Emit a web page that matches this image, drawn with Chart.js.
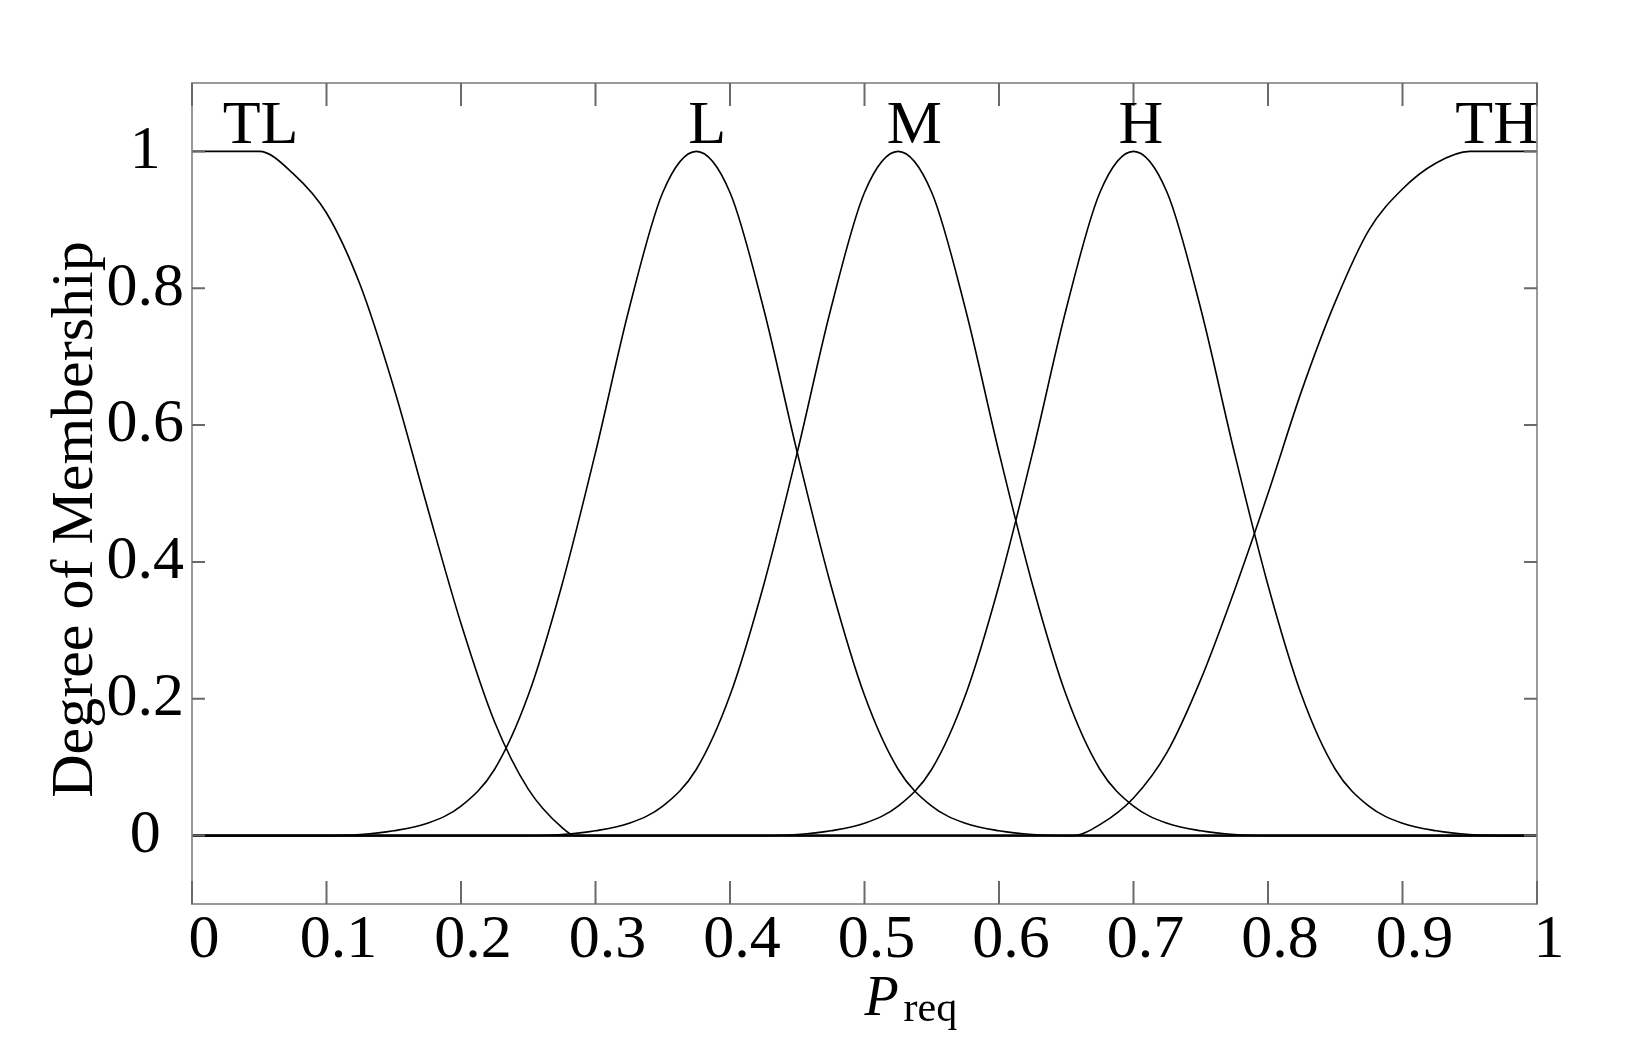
<!DOCTYPE html>
<html>
<head>
<meta charset="utf-8">
<title>Degree of Membership</title>
<script src="https://cdn.jsdelivr.net/npm/chart.js@4.4.1/dist/chart.umd.min.js"></script>
<style>
    html, body { margin: 0; padding: 0; background: #fff; }
    #wrap { width: 1632px; height: 1056px; position: relative; }
</style>
</head>
<body>
<div id="wrap"><canvas id="mfChart"></canvas></div>
<script>
// membership curves (x = P_req, y = degree)
const tlX = [0, 0.05, 0.075, 0.1, 0.125, 0.15, 0.175, 0.2, 0.225, 0.25, 0.275, 0.285, 1];
const tlY = [1, 1, 0.968, 0.91, 0.805, 0.655, 0.48, 0.31, 0.166, 0.068, 0.012, 0, 0];

const lX = [0, 0.1, 0.125, 0.15, 0.175, 0.2, 0.225, 0.25, 0.275, 0.3, 0.325, 0.35, 0.375,
            0.4, 0.425, 0.45, 0.475, 0.5, 0.525, 0.55, 0.575, 0.6, 0.625, 0.65, 1];
const lY = [0, 0, 0.0015, 0.007, 0.018, 0.043, 0.097, 0.205, 0.366, 0.56, 0.77, 0.94, 1,
            0.94, 0.77, 0.56, 0.366, 0.205, 0.097, 0.043, 0.018, 0.007, 0.0015, 0, 0];

const mX = [0, 0.25, 0.275, 0.3, 0.325, 0.35, 0.375, 0.4, 0.425, 0.45, 0.475, 0.5, 0.525,
            0.55, 0.575, 0.6, 0.625, 0.65, 0.675, 0.7, 0.725, 0.75, 0.775, 0.8, 1];
const mY = [0, 0, 0.0015, 0.007, 0.018, 0.043, 0.097, 0.205, 0.366, 0.56, 0.77, 0.94, 1,
            0.94, 0.77, 0.56, 0.366, 0.205, 0.097, 0.043, 0.018, 0.007, 0.0015, 0, 0];

const hX = [0, 0.425, 0.45, 0.475, 0.5, 0.525, 0.55, 0.575, 0.6, 0.625, 0.65, 0.675, 0.7,
            0.725, 0.75, 0.775, 0.8, 0.825, 0.85, 0.875, 0.9, 0.925, 0.95, 0.975, 1];
const hY = [0, 0, 0.0015, 0.007, 0.018, 0.043, 0.097, 0.205, 0.366, 0.56, 0.77, 0.94, 1,
            0.94, 0.77, 0.56, 0.366, 0.205, 0.097, 0.043, 0.018, 0.007, 0.0015, 0, 0];

const thX = [0, 0.655, 0.675, 0.7, 0.725, 0.75, 0.775, 0.8, 0.825, 0.85, 0.875, 0.9, 0.925, 0.95, 1];
const thY = [0, 0, 0.016, 0.055, 0.122, 0.228, 0.358, 0.5, 0.65, 0.78, 0.885, 0.945, 0.983, 1, 1];

// names written above the curves
const mfNames = ['TL', 'L', 'M', 'H', 'TH'];
const mfNameX = [0.051, 0.383, 0.537, 0.7055, 0.970];
const mfNameY = 1.012;

// axis ticks
const xTicks = [0, 0.1, 0.2, 0.3, 0.4, 0.5, 0.6, 0.7, 0.8, 0.9, 1];
const yTicks = [0, 0.2, 0.4, 0.6, 0.8, 1];

const serif = '"Liberation Serif", "Times New Roman", serif';

function pts(xs, ys) {
    return xs.map((x, i) => ({ x: x, y: ys[i] }));
}

const curves = [
    { label: 'TL', xs: tlX, ys: tlY },
    { label: 'L', xs: lX, ys: lY },
    { label: 'M', xs: mX, ys: mY },
    { label: 'H', xs: hX, ys: hY },
    { label: 'TH', xs: thX, ys: thY }
];

// box, inward ticks, zero line, names and axis titles (matlab look)
const matlabAxes = {
    id: 'matlabAxes',
    beforeDatasetsDraw(chart) {
        const { ctx, chartArea: a, scales: { y } } = chart;
        const y0 = y.getPixelForValue(0);
        ctx.save();
        ctx.strokeStyle = '#7a7a7a';
        ctx.lineWidth = 3;
        ctx.beginPath();
        ctx.moveTo(a.left, y0);
        ctx.lineTo(a.right, y0);
        ctx.stroke();
        ctx.restore();
    },
    afterDraw(chart) {
        const { ctx, chartArea: a, scales: { x, y } } = chart;
        ctx.save();

        ctx.strokeStyle = '#9a9a9a';
        ctx.lineWidth = 2;
        ctx.strokeRect(a.left, a.top, a.right - a.left, a.bottom - a.top);

        ctx.strokeStyle = '#6a6a6a';
        ctx.lineWidth = 2;
        ctx.beginPath();
        xTicks.forEach(v => {
            const px = x.getPixelForValue(v);
            ctx.moveTo(px, a.bottom); ctx.lineTo(px, a.bottom - 23);
            ctx.moveTo(px, a.top); ctx.lineTo(px, a.top + 23);
        });
        yTicks.forEach(v => {
            const py = y.getPixelForValue(v);
            ctx.moveTo(a.left, py); ctx.lineTo(a.left + 13, py);
            ctx.moveTo(a.right, py); ctx.lineTo(a.right - 13, py);
        });
        ctx.stroke();

        ctx.fillStyle = '#000';
        ctx.font = '62px ' + serif;
        ctx.textAlign = 'center';
        ctx.textBaseline = 'alphabetic';
        mfNames.forEach((n, i) => {
            ctx.fillText(n, x.getPixelForValue(mfNameX[i]), y.getPixelForValue(mfNameY));
        });

        // y title
        ctx.save();
        ctx.translate(92, (a.top + a.bottom) / 2 + 26);
        ctx.rotate(-Math.PI / 2);
        ctx.font = '60px ' + serif;
        ctx.textAlign = 'center';
        ctx.fillText('Degree of Membership', 0, 0);
        ctx.restore();

        // x title: P with subscript req
        const cx = (a.left + a.right) / 2;
        ctx.textAlign = 'left';
        ctx.font = 'italic 56px ' + serif;
        ctx.fillText('P', cx, 1015);
        ctx.font = '42px ' + serif;
        ctx.fillText('req', cx + 39, 1021);

        ctx.restore();
    }
};

new Chart(document.getElementById('mfChart'), {
    type: 'line',
    data: {
        datasets: curves.map(c => ({
            label: c.label,
            data: pts(c.xs, c.ys),
            borderColor: '#000',
            borderWidth: 1.6,
            pointRadius: 0,
            fill: false,
            cubicInterpolationMode: 'monotone'
        }))
    },
    options: {
        responsive: true,
        maintainAspectRatio: false,
        animation: false,
        layout: { padding: { left: 0, right: 95, top: 83, bottom: 0 } },
        plugins: {
            legend: { display: false },
            tooltip: { enabled: false }
        },
        scales: {
            x: {
                type: 'linear',
                min: 0,
                max: 1,
                afterBuildTicks: s => { s.ticks = xTicks.map(v => ({ value: v })); },
                afterFit: s => { s.height = 152; },
                grid: { display: false, drawTicks: false },
                border: { display: false },
                ticks: {
                    font: { family: serif, size: 62 },
                    color: '#000',
                    padding: 0,
                    labelOffset: 12,
                    maxRotation: 0,
                    autoSkip: false,
                    callback: v => String(v)
                }
            },
            y: {
                min: -0.1,
                max: 1.1,
                afterBuildTicks: s => { s.ticks = yTicks.map(v => ({ value: v })); },
                afterFit: s => { s.width = 192; },
                grid: { display: false, drawTicks: false },
                border: { display: false },
                ticks: {
                    font: { family: serif, size: 62 },
                    color: '#000',
                    padding: 8,
                    crossAlign: 'center',
                    callback: v => String(v)
                }
            }
        }
    },
    plugins: [matlabAxes]
});
</script>
</body>
</html>
